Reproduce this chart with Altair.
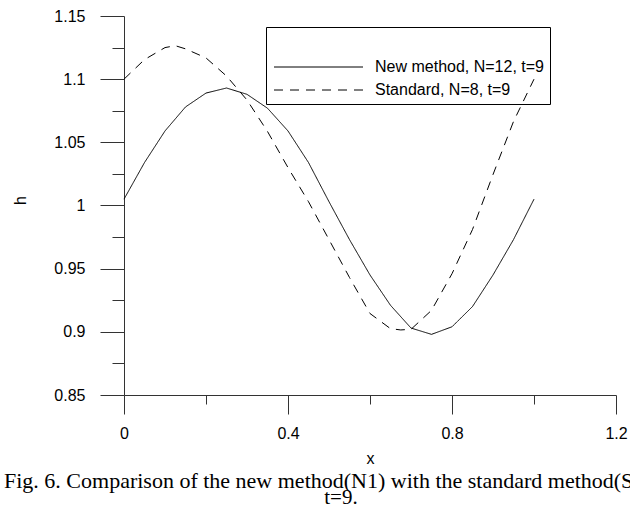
import altair as alt
import pandas as pd

# ---- data ----
x_new = [0.0, 0.05, 0.1, 0.15, 0.2, 0.25, 0.3, 0.35, 0.4, 0.45, 0.5,
         0.55, 0.6, 0.65, 0.7, 0.75, 0.8, 0.85, 0.9, 0.95, 1.0]
h_new = [1.005, 1.034, 1.059, 1.078, 1.089, 1.093, 1.088, 1.077, 1.059, 1.034, 1.003,
         0.973, 0.945, 0.921, 0.903, 0.898, 0.904, 0.920, 0.945, 0.973, 1.005]

x_std = [0.0, 0.05, 0.1, 0.125, 0.15, 0.2, 0.25, 0.3, 0.35, 0.4, 0.45, 0.5,
         0.55, 0.6, 0.65, 0.675, 0.7, 0.75, 0.8, 0.85, 0.9, 0.95, 1.0]
h_std = [1.100, 1.1155, 1.125, 1.1265, 1.124, 1.1168, 1.1025, 1.0835, 1.0586, 1.030, 1.003, 0.973,
         0.943, 0.9145, 0.9025, 0.9015, 0.902, 0.917, 0.946, 0.981, 1.0245, 1.0665, 1.100]

series_names = ["New method, N=12, t=9", "Standard, N=8, t=9"]

x_major = [0, 0.4, 0.8, 1.2]
x_minor = [0.2, 0.6, 1.0]
y_major = [0.85, 0.9, 0.95, 1.0, 1.05, 1.1, 1.15]
y_minor = [0.875, 0.925, 0.975, 1.025, 1.075, 1.125]

caption_line1 = ["Fig. 6. Comparison of the new method(N1) with the standard method(S"]
caption_line2 = ["t=9."]

# ---- build table ----
df = pd.DataFrame({
    "x": x_new + x_std,
    "h": h_new + h_std,
    "series": [series_names[0]] * len(x_new) + [series_names[1]] * len(x_std),
})

AX_COLOR = "#333333"
FONT = "Liberation Sans"

xscale = alt.Scale(domain=[0, 1.2], nice=False, zero=False)
yscale = alt.Scale(domain=[0.85, 1.15], nice=False, zero=False)

main = alt.Chart(df).mark_line(color="black", strokeWidth=1).encode(
    x=alt.X("x:Q", scale=xscale,
            axis=alt.Axis(values=x_major, tickSize=19, labelPadding=11,
                          labelExpr="'' + datum.value", labelFlush=False, labelOverlap=False,
                          title="x", titlePadding=9, orient="bottom")),
    y=alt.Y("h:Q", scale=yscale,
            axis=alt.Axis(values=y_major, tickSize=24, labelPadding=15,
                          labelExpr="'' + datum.value", labelFlush=False, labelOverlap=False,
                          title="h", titlePadding=25, orient="left", titleY=184)),
    strokeDash=alt.StrokeDash(
        "series:N",
        scale=alt.Scale(domain=series_names, range=[[1, 0], [9, 7]]),
        legend=alt.Legend(
            title=" ", titleFontSize=16, titlePadding=10,
            orient="none", legendX=142, legendY=11,
            strokeColor="black", padding=6,
            symbolType="M-1.2,0H16.6", symbolSize=100, symbolStrokeWidth=1,
            symbolStrokeColor="black", symbolFillColor="transparent",
            labelFont=FONT, labelFontSize=16, labelOffset=87, labelColor="black",
            labelLimit=400, rowPadding=7,
        ),
    ),
)

minor = alt.Chart(df).mark_line(opacity=0).encode(
    x=alt.X("x:Q", scale=xscale,
            axis=alt.Axis(values=x_minor, tickSize=9, labels=False, domain=False,
                          title=None, orient="bottom")),
    y=alt.Y("h:Q", scale=yscale,
            axis=alt.Axis(values=y_minor, tickSize=12, labels=False, domain=False,
                          title=None, orient="left")),
)

cap1 = alt.Chart(pd.DataFrame({"text": caption_line1})).mark_text(
    font="Liberation Serif", fontSize=22, align="left", baseline="middle", color="black"
).encode(text="text:N", x=alt.value(-120), y=alt.value(465))

cap2 = alt.Chart(pd.DataFrame({"text": caption_line2})).mark_text(
    font="Liberation Serif", fontSize=21, align="center", baseline="middle", color="black"
).encode(text="text:N", x=alt.value(217), y=alt.value(482))

chart = alt.layer(main, minor, cap1, cap2).resolve_axis(
    x="independent", y="independent"
).properties(
    width=492, height=379,
    autosize=alt.AutoSizeParams(type="none"),
    padding={"left": 124, "top": 16, "right": 14, "bottom": 115},
).configure_view(stroke=None).configure_axis(
    domainColor=AX_COLOR, tickColor=AX_COLOR, domainWidth=1, tickWidth=1,
    labelFont=FONT, labelFontSize=16, labelColor="black",
    titleFont=FONT, titleFontSize=16, titleFontWeight="normal", titleColor="black",
    grid=False,
)

chart.save("out.html", embed_options={"renderer": "svg", "actions": False})
